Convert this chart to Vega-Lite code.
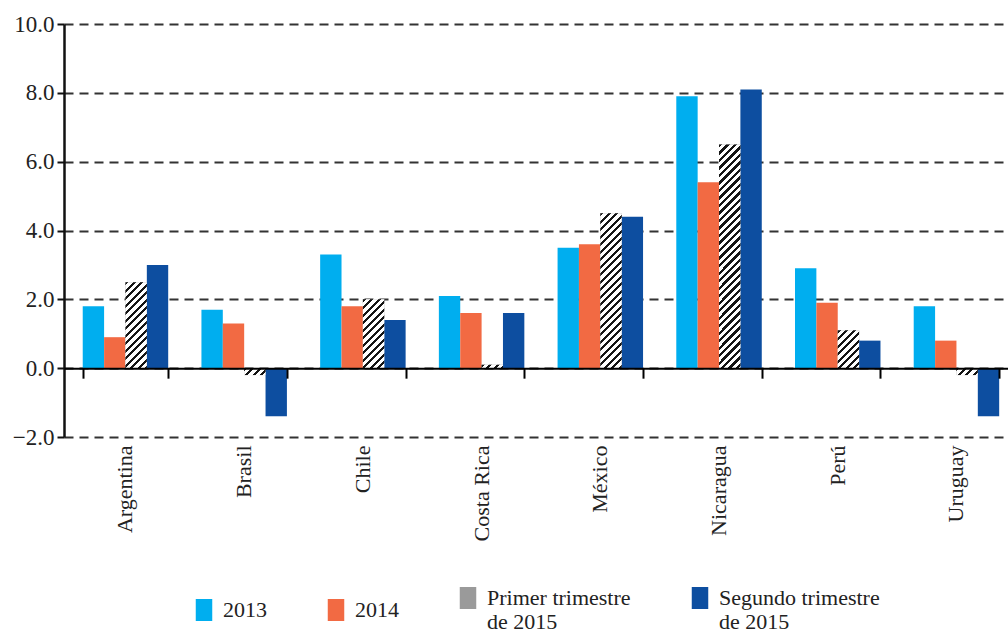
{
  "$schema": "https://vega.github.io/schema/vega-lite/v6.json",
  "autosize": {"type": "none"},
  "width": 944,
  "height": 413,
  "padding": {"left": 64, "top": 24, "right": 0, "bottom": 197},
  "background": "white",
  "config": {
    "view": {"stroke": null},
    "font": "Liberation Serif",
    "axis": {"labelFont": "Liberation Serif", "labelColor": "#222", "titleFont": "Liberation Serif"},
    "legend": {"labelFont": "Liberation Serif, Times New Roman, serif"}
  },
  "data": {
    "values": [
      {"country": "Argentina", "series": "2013", "value": 1.8},
      {"country": "Argentina", "series": "2014", "value": 0.9},
      {"country": "Argentina", "series": "Primer trimestre de 2015", "value": 2.5},
      {"country": "Argentina", "series": "Segundo trimestre de 2015", "value": 3.0},
      {"country": "Brasil", "series": "2013", "value": 1.7},
      {"country": "Brasil", "series": "2014", "value": 1.3},
      {"country": "Brasil", "series": "Primer trimestre de 2015", "value": -0.2},
      {"country": "Brasil", "series": "Segundo trimestre de 2015", "value": -1.4},
      {"country": "Chile", "series": "2013", "value": 3.3},
      {"country": "Chile", "series": "2014", "value": 1.8},
      {"country": "Chile", "series": "Primer trimestre de 2015", "value": 2.0},
      {"country": "Chile", "series": "Segundo trimestre de 2015", "value": 1.4},
      {"country": "Costa Rica", "series": "2013", "value": 2.1},
      {"country": "Costa Rica", "series": "2014", "value": 1.6},
      {"country": "Costa Rica", "series": "Primer trimestre de 2015", "value": 0.1},
      {"country": "Costa Rica", "series": "Segundo trimestre de 2015", "value": 1.6},
      {"country": "México", "series": "2013", "value": 3.5},
      {"country": "México", "series": "2014", "value": 3.6},
      {"country": "México", "series": "Primer trimestre de 2015", "value": 4.5},
      {"country": "México", "series": "Segundo trimestre de 2015", "value": 4.4},
      {"country": "Nicaragua", "series": "2013", "value": 7.9},
      {"country": "Nicaragua", "series": "2014", "value": 5.4},
      {"country": "Nicaragua", "series": "Primer trimestre de 2015", "value": 6.5},
      {"country": "Nicaragua", "series": "Segundo trimestre de 2015", "value": 8.1},
      {"country": "Perú", "series": "2013", "value": 2.9},
      {"country": "Perú", "series": "2014", "value": 1.9},
      {"country": "Perú", "series": "Primer trimestre de 2015", "value": 1.1},
      {"country": "Perú", "series": "Segundo trimestre de 2015", "value": 0.8},
      {"country": "Uruguay", "series": "2013", "value": 1.8},
      {"country": "Uruguay", "series": "2014", "value": 0.8},
      {"country": "Uruguay", "series": "Primer trimestre de 2015", "value": -0.2},
      {"country": "Uruguay", "series": "Segundo trimestre de 2015", "value": -1.4}
    ]
  },
  "layer": [
    {
      "mark": {"type": "bar", "strokeWidth": 0},
      "encoding": {
        "x": {
          "field": "country", "type": "nominal", "sort": null,
          "scale": {"paddingInner": 0.28, "paddingOuter": 0.116, "align": 0.68},
          "axis": {"orient": "bottom", "domain": false, "ticks": false, "labelAngle": -90, "labelPadding": 8, "labelFont": "Liberation Serif", "labelFontSize": 22, "labelColor": "#222", "title": null, "grid": false}
        },
        "xOffset": {
          "field": "series", "type": "nominal",
          "scale": {"domain": ["2013", "2014", "Primer trimestre de 2015", "Segundo trimestre de 2015"], "paddingInner": 0, "paddingOuter": 0}
        },
        "y": {
          "field": "value", "type": "quantitative",
          "scale": {"domain": [-2, 10], "nice": false, "zero": false},
          "axis": {
            "values": [-2, 0, 2, 4, 6, 8, 10], "format": ".1f", "title": null,
            "labelFont": "Liberation Serif", "labelFontSize": 23, "labelColor": "#222", "labelPadding": 3,
            "tickSize": 7, "tickWidth": 2, "tickColor": "#111",
            "domainColor": "#111", "domainWidth": 2.5,
            "grid": true, "gridDash": [9, 6], "gridColor": "#333", "gridWidth": 1.8
          }
        },
        "color": {
          "field": "series", "type": "nominal",
          "scale": {"domain": ["2013", "2014", "Primer trimestre de 2015", "Segundo trimestre de 2015"], "range": ["#00AEEF", "#F26A43", "#9a9a9a", "#0D4EA0"]},
          "legend": {
            "orient": "none", "legendX": 129, "legendY": 563, "direction": "horizontal", "title": null,
            "symbolType": "M-0.75,-1H0.75V1H-0.75Z", "symbolSize": 484, "symbolStrokeWidth": 0,
            "labelFont": "Liberation Serif, Times New Roman, serif", "labelFontSize": 22, "labelColor": "#222", "labelOffset": 8,
            "columnPadding": 58, "labelLimit": 400,
            "labelExpr": "datum.label == 'Primer trimestre de 2015' ? ['Primer trimestre', 'de 2015'] : datum.label == 'Segundo trimestre de 2015' ? ['Segundo  trimestre', 'de 2015'] : datum.label"
          }
        }
      }
    },
    {
      "transform": [{"filter": "datum.series === 'Primer trimestre de 2015'"}],
      "mark": {"type": "bar", "strokeWidth": 0},
      "encoding": {
        "x": {
          "field": "country", "type": "nominal", "sort": null,
          "scale": {"paddingInner": 0.28, "paddingOuter": 0.116, "align": 0.68},
          "axis": {"orient": "bottom", "offset": -68.83, "domain": true, "domainColor": "#000", "domainWidth": 2, "ticks": true, "tickSize": 10, "tickWidth": 2, "tickColor": "#000", "tickBand": "extent", "labels": false, "title": null, "grid": false, "zindex": 1}
        },
        "xOffset": {
          "field": "series", "type": "nominal",
          "scale": {"domain": ["2013", "2014", "Primer trimestre de 2015", "Segundo trimestre de 2015"], "paddingInner": 0, "paddingOuter": 0}
        },
        "y": {
          "field": "value", "type": "quantitative",
          "scale": {"domain": [-2, 10], "nice": false, "zero": false},
          "axis": {
            "values": [-2, 0, 2, 4, 6, 8, 10], "format": ".1f", "title": null,
            "labelFont": "Liberation Serif", "labelFontSize": 23, "labelColor": "#222", "labelPadding": 3,
            "tickSize": 7, "tickWidth": 2, "tickColor": "#111",
            "domainColor": "#111", "domainWidth": 2.5,
            "grid": true, "gridDash": [9, 6], "gridColor": "#333", "gridWidth": 1.8
          }
        },
        "fill": {
          "condition": [
            {"test": "datum.country === 'Argentina'", "value": {"gradient": "linear", "x1": 0, "y1": 0, "x2": 0.3065, "y2": 1.2319, "stops": [
              {"offset": 0, "color": "#151515"}, {"offset": 0.028, "color": "#151515"}, {"offset": 0.028, "color": "#fff"}, {"offset": 0.0667, "color": "#fff"},
              {"offset": 0.0667, "color": "#151515"}, {"offset": 0.0947, "color": "#151515"}, {"offset": 0.0947, "color": "#fff"}, {"offset": 0.1333, "color": "#fff"},
              {"offset": 0.1333, "color": "#151515"}, {"offset": 0.1613, "color": "#151515"}, {"offset": 0.1613, "color": "#fff"}, {"offset": 0.2, "color": "#fff"},
              {"offset": 0.2, "color": "#151515"}, {"offset": 0.228, "color": "#151515"}, {"offset": 0.228, "color": "#fff"}, {"offset": 0.2667, "color": "#fff"},
              {"offset": 0.2667, "color": "#151515"}, {"offset": 0.2947, "color": "#151515"}, {"offset": 0.2947, "color": "#fff"}, {"offset": 0.3333, "color": "#fff"},
              {"offset": 0.3333, "color": "#151515"}, {"offset": 0.3613, "color": "#151515"}, {"offset": 0.3613, "color": "#fff"}, {"offset": 0.4, "color": "#fff"},
              {"offset": 0.4, "color": "#151515"}, {"offset": 0.428, "color": "#151515"}, {"offset": 0.428, "color": "#fff"}, {"offset": 0.4667, "color": "#fff"},
              {"offset": 0.4667, "color": "#151515"}, {"offset": 0.4947, "color": "#151515"}, {"offset": 0.4947, "color": "#fff"}, {"offset": 0.5333, "color": "#fff"},
              {"offset": 0.5333, "color": "#151515"}, {"offset": 0.5613, "color": "#151515"}, {"offset": 0.5613, "color": "#fff"}, {"offset": 0.6, "color": "#fff"},
              {"offset": 0.6, "color": "#151515"}, {"offset": 0.628, "color": "#151515"}, {"offset": 0.628, "color": "#fff"}, {"offset": 0.6667, "color": "#fff"},
              {"offset": 0.6667, "color": "#151515"}, {"offset": 0.6947, "color": "#151515"}, {"offset": 0.6947, "color": "#fff"}, {"offset": 0.7333, "color": "#fff"},
              {"offset": 0.7333, "color": "#151515"}, {"offset": 0.7613, "color": "#151515"}, {"offset": 0.7613, "color": "#fff"}, {"offset": 0.8, "color": "#fff"},
              {"offset": 0.8, "color": "#151515"}, {"offset": 0.828, "color": "#151515"}, {"offset": 0.828, "color": "#fff"}, {"offset": 0.8667, "color": "#fff"},
              {"offset": 0.8667, "color": "#151515"}, {"offset": 0.8947, "color": "#151515"}, {"offset": 0.8947, "color": "#fff"}, {"offset": 0.9333, "color": "#fff"},
              {"offset": 0.9333, "color": "#151515"}, {"offset": 0.9613, "color": "#151515"}, {"offset": 0.9613, "color": "#fff"}, {"offset": 1, "color": "#fff"}
            ]}},
            {"test": "datum.country === 'Brasil' || datum.country === 'Uruguay'", "value": {"gradient": "linear", "x1": 0, "y1": 0, "x2": 1.2699, "y2": 0.4094, "stops": [
              {"offset": 0, "color": "#151515"}, {"offset": 0.105, "color": "#151515"}, {"offset": 0.105, "color": "#fff"}, {"offset": 0.25, "color": "#fff"},
              {"offset": 0.25, "color": "#151515"}, {"offset": 0.355, "color": "#151515"}, {"offset": 0.355, "color": "#fff"}, {"offset": 0.5, "color": "#fff"},
              {"offset": 0.5, "color": "#151515"}, {"offset": 0.605, "color": "#151515"}, {"offset": 0.605, "color": "#fff"}, {"offset": 0.75, "color": "#fff"},
              {"offset": 0.75, "color": "#151515"}, {"offset": 0.855, "color": "#151515"}, {"offset": 0.855, "color": "#fff"}, {"offset": 1, "color": "#fff"}
            ]}},
            {"test": "datum.country === 'Costa Rica'", "value": {"gradient": "linear", "x1": 0, "y1": 0, "x2": 1.3674, "y2": 0.2173, "stops": [
              {"offset": 0, "color": "#151515"}, {"offset": 0.105, "color": "#151515"}, {"offset": 0.105, "color": "#fff"}, {"offset": 0.25, "color": "#fff"},
              {"offset": 0.25, "color": "#151515"}, {"offset": 0.355, "color": "#151515"}, {"offset": 0.355, "color": "#fff"}, {"offset": 0.5, "color": "#fff"},
              {"offset": 0.5, "color": "#151515"}, {"offset": 0.605, "color": "#151515"}, {"offset": 0.605, "color": "#fff"}, {"offset": 0.75, "color": "#fff"},
              {"offset": 0.75, "color": "#151515"}, {"offset": 0.855, "color": "#151515"}, {"offset": 0.855, "color": "#fff"}, {"offset": 1, "color": "#fff"}
            ]}},
            {"test": "datum.country === 'Chile'", "value": {"gradient": "linear", "x1": 0, "y1": 0, "x2": 0.4019, "y2": 1.2921, "stops": [
              {"offset": 0, "color": "#151515"}, {"offset": 0.0323, "color": "#151515"}, {"offset": 0.0323, "color": "#fff"}, {"offset": 0.0769, "color": "#fff"},
              {"offset": 0.0769, "color": "#151515"}, {"offset": 0.1092, "color": "#151515"}, {"offset": 0.1092, "color": "#fff"}, {"offset": 0.1538, "color": "#fff"},
              {"offset": 0.1538, "color": "#151515"}, {"offset": 0.1862, "color": "#151515"}, {"offset": 0.1862, "color": "#fff"}, {"offset": 0.2308, "color": "#fff"},
              {"offset": 0.2308, "color": "#151515"}, {"offset": 0.2631, "color": "#151515"}, {"offset": 0.2631, "color": "#fff"}, {"offset": 0.3077, "color": "#fff"},
              {"offset": 0.3077, "color": "#151515"}, {"offset": 0.34, "color": "#151515"}, {"offset": 0.34, "color": "#fff"}, {"offset": 0.3846, "color": "#fff"},
              {"offset": 0.3846, "color": "#151515"}, {"offset": 0.4169, "color": "#151515"}, {"offset": 0.4169, "color": "#fff"}, {"offset": 0.4615, "color": "#fff"},
              {"offset": 0.4615, "color": "#151515"}, {"offset": 0.4938, "color": "#151515"}, {"offset": 0.4938, "color": "#fff"}, {"offset": 0.5385, "color": "#fff"},
              {"offset": 0.5385, "color": "#151515"}, {"offset": 0.5708, "color": "#151515"}, {"offset": 0.5708, "color": "#fff"}, {"offset": 0.6154, "color": "#fff"},
              {"offset": 0.6154, "color": "#151515"}, {"offset": 0.6477, "color": "#151515"}, {"offset": 0.6477, "color": "#fff"}, {"offset": 0.6923, "color": "#fff"},
              {"offset": 0.6923, "color": "#151515"}, {"offset": 0.7246, "color": "#151515"}, {"offset": 0.7246, "color": "#fff"}, {"offset": 0.7692, "color": "#fff"},
              {"offset": 0.7692, "color": "#151515"}, {"offset": 0.8015, "color": "#151515"}, {"offset": 0.8015, "color": "#fff"}, {"offset": 0.8462, "color": "#fff"},
              {"offset": 0.8462, "color": "#151515"}, {"offset": 0.8785, "color": "#151515"}, {"offset": 0.8785, "color": "#fff"}, {"offset": 0.9231, "color": "#fff"},
              {"offset": 0.9231, "color": "#151515"}, {"offset": 0.9554, "color": "#151515"}, {"offset": 0.9554, "color": "#fff"}, {"offset": 1, "color": "#fff"}
            ]}},
            {"test": "datum.country === 'México'", "value": {"gradient": "linear", "x1": 0, "y1": 0, "x2": 0.1575, "y2": 1.1403, "stops": [
              {"offset": 0, "color": "#151515"}, {"offset": 0.0175, "color": "#151515"}, {"offset": 0.0175, "color": "#fff"}, {"offset": 0.0417, "color": "#fff"},
              {"offset": 0.0417, "color": "#151515"}, {"offset": 0.0592, "color": "#151515"}, {"offset": 0.0592, "color": "#fff"}, {"offset": 0.0833, "color": "#fff"},
              {"offset": 0.0833, "color": "#151515"}, {"offset": 0.1008, "color": "#151515"}, {"offset": 0.1008, "color": "#fff"}, {"offset": 0.125, "color": "#fff"},
              {"offset": 0.125, "color": "#151515"}, {"offset": 0.1425, "color": "#151515"}, {"offset": 0.1425, "color": "#fff"}, {"offset": 0.1667, "color": "#fff"},
              {"offset": 0.1667, "color": "#151515"}, {"offset": 0.1842, "color": "#151515"}, {"offset": 0.1842, "color": "#fff"}, {"offset": 0.2083, "color": "#fff"},
              {"offset": 0.2083, "color": "#151515"}, {"offset": 0.2258, "color": "#151515"}, {"offset": 0.2258, "color": "#fff"}, {"offset": 0.25, "color": "#fff"},
              {"offset": 0.25, "color": "#151515"}, {"offset": 0.2675, "color": "#151515"}, {"offset": 0.2675, "color": "#fff"}, {"offset": 0.2917, "color": "#fff"},
              {"offset": 0.2917, "color": "#151515"}, {"offset": 0.3092, "color": "#151515"}, {"offset": 0.3092, "color": "#fff"}, {"offset": 0.3333, "color": "#fff"},
              {"offset": 0.3333, "color": "#151515"}, {"offset": 0.3508, "color": "#151515"}, {"offset": 0.3508, "color": "#fff"}, {"offset": 0.375, "color": "#fff"},
              {"offset": 0.375, "color": "#151515"}, {"offset": 0.3925, "color": "#151515"}, {"offset": 0.3925, "color": "#fff"}, {"offset": 0.4167, "color": "#fff"},
              {"offset": 0.4167, "color": "#151515"}, {"offset": 0.4342, "color": "#151515"}, {"offset": 0.4342, "color": "#fff"}, {"offset": 0.4583, "color": "#fff"},
              {"offset": 0.4583, "color": "#151515"}, {"offset": 0.4758, "color": "#151515"}, {"offset": 0.4758, "color": "#fff"}, {"offset": 0.5, "color": "#fff"},
              {"offset": 0.5, "color": "#151515"}, {"offset": 0.5175, "color": "#151515"}, {"offset": 0.5175, "color": "#fff"}, {"offset": 0.5417, "color": "#fff"},
              {"offset": 0.5417, "color": "#151515"}, {"offset": 0.5592, "color": "#151515"}, {"offset": 0.5592, "color": "#fff"}, {"offset": 0.5833, "color": "#fff"},
              {"offset": 0.5833, "color": "#151515"}, {"offset": 0.6008, "color": "#151515"}, {"offset": 0.6008, "color": "#fff"}, {"offset": 0.625, "color": "#fff"},
              {"offset": 0.625, "color": "#151515"}, {"offset": 0.6425, "color": "#151515"}, {"offset": 0.6425, "color": "#fff"}, {"offset": 0.6667, "color": "#fff"},
              {"offset": 0.6667, "color": "#151515"}, {"offset": 0.6842, "color": "#151515"}, {"offset": 0.6842, "color": "#fff"}, {"offset": 0.7083, "color": "#fff"},
              {"offset": 0.7083, "color": "#151515"}, {"offset": 0.7258, "color": "#151515"}, {"offset": 0.7258, "color": "#fff"}, {"offset": 0.75, "color": "#fff"},
              {"offset": 0.75, "color": "#151515"}, {"offset": 0.7675, "color": "#151515"}, {"offset": 0.7675, "color": "#fff"}, {"offset": 0.7917, "color": "#fff"},
              {"offset": 0.7917, "color": "#151515"}, {"offset": 0.8092, "color": "#151515"}, {"offset": 0.8092, "color": "#fff"}, {"offset": 0.8333, "color": "#fff"},
              {"offset": 0.8333, "color": "#151515"}, {"offset": 0.8508, "color": "#151515"}, {"offset": 0.8508, "color": "#fff"}, {"offset": 0.875, "color": "#fff"},
              {"offset": 0.875, "color": "#151515"}, {"offset": 0.8925, "color": "#151515"}, {"offset": 0.8925, "color": "#fff"}, {"offset": 0.9167, "color": "#fff"},
              {"offset": 0.9167, "color": "#151515"}, {"offset": 0.9342, "color": "#151515"}, {"offset": 0.9342, "color": "#fff"}, {"offset": 0.9583, "color": "#fff"},
              {"offset": 0.9583, "color": "#151515"}, {"offset": 0.9758, "color": "#151515"}, {"offset": 0.9758, "color": "#fff"}, {"offset": 1, "color": "#fff"}
            ]}},
            {"test": "datum.country === 'Nicaragua'", "value": {"gradient": "linear", "x1": 0, "y1": 0, "x2": 0.1049, "y2": 1.0964, "stops": [
              {"offset": 0, "color": "#151515"}, {"offset": 0.0127, "color": "#151515"}, {"offset": 0.0127, "color": "#fff"}, {"offset": 0.0303, "color": "#fff"},
              {"offset": 0.0303, "color": "#151515"}, {"offset": 0.043, "color": "#151515"}, {"offset": 0.043, "color": "#fff"}, {"offset": 0.0606, "color": "#fff"},
              {"offset": 0.0606, "color": "#151515"}, {"offset": 0.0733, "color": "#151515"}, {"offset": 0.0733, "color": "#fff"}, {"offset": 0.0909, "color": "#fff"},
              {"offset": 0.0909, "color": "#151515"}, {"offset": 0.1036, "color": "#151515"}, {"offset": 0.1036, "color": "#fff"}, {"offset": 0.1212, "color": "#fff"},
              {"offset": 0.1212, "color": "#151515"}, {"offset": 0.1339, "color": "#151515"}, {"offset": 0.1339, "color": "#fff"}, {"offset": 0.1515, "color": "#fff"},
              {"offset": 0.1515, "color": "#151515"}, {"offset": 0.1642, "color": "#151515"}, {"offset": 0.1642, "color": "#fff"}, {"offset": 0.1818, "color": "#fff"},
              {"offset": 0.1818, "color": "#151515"}, {"offset": 0.1945, "color": "#151515"}, {"offset": 0.1945, "color": "#fff"}, {"offset": 0.2121, "color": "#fff"},
              {"offset": 0.2121, "color": "#151515"}, {"offset": 0.2248, "color": "#151515"}, {"offset": 0.2248, "color": "#fff"}, {"offset": 0.2424, "color": "#fff"},
              {"offset": 0.2424, "color": "#151515"}, {"offset": 0.2551, "color": "#151515"}, {"offset": 0.2551, "color": "#fff"}, {"offset": 0.2727, "color": "#fff"},
              {"offset": 0.2727, "color": "#151515"}, {"offset": 0.2854, "color": "#151515"}, {"offset": 0.2854, "color": "#fff"}, {"offset": 0.303, "color": "#fff"},
              {"offset": 0.303, "color": "#151515"}, {"offset": 0.3157, "color": "#151515"}, {"offset": 0.3157, "color": "#fff"}, {"offset": 0.3333, "color": "#fff"},
              {"offset": 0.3333, "color": "#151515"}, {"offset": 0.3461, "color": "#151515"}, {"offset": 0.3461, "color": "#fff"}, {"offset": 0.3636, "color": "#fff"},
              {"offset": 0.3636, "color": "#151515"}, {"offset": 0.3764, "color": "#151515"}, {"offset": 0.3764, "color": "#fff"}, {"offset": 0.3939, "color": "#fff"},
              {"offset": 0.3939, "color": "#151515"}, {"offset": 0.4067, "color": "#151515"}, {"offset": 0.4067, "color": "#fff"}, {"offset": 0.4242, "color": "#fff"},
              {"offset": 0.4242, "color": "#151515"}, {"offset": 0.437, "color": "#151515"}, {"offset": 0.437, "color": "#fff"}, {"offset": 0.4545, "color": "#fff"},
              {"offset": 0.4545, "color": "#151515"}, {"offset": 0.4673, "color": "#151515"}, {"offset": 0.4673, "color": "#fff"}, {"offset": 0.4848, "color": "#fff"},
              {"offset": 0.4848, "color": "#151515"}, {"offset": 0.4976, "color": "#151515"}, {"offset": 0.4976, "color": "#fff"}, {"offset": 0.5152, "color": "#fff"},
              {"offset": 0.5152, "color": "#151515"}, {"offset": 0.5279, "color": "#151515"}, {"offset": 0.5279, "color": "#fff"}, {"offset": 0.5455, "color": "#fff"},
              {"offset": 0.5455, "color": "#151515"}, {"offset": 0.5582, "color": "#151515"}, {"offset": 0.5582, "color": "#fff"}, {"offset": 0.5758, "color": "#fff"},
              {"offset": 0.5758, "color": "#151515"}, {"offset": 0.5885, "color": "#151515"}, {"offset": 0.5885, "color": "#fff"}, {"offset": 0.6061, "color": "#fff"},
              {"offset": 0.6061, "color": "#151515"}, {"offset": 0.6188, "color": "#151515"}, {"offset": 0.6188, "color": "#fff"}, {"offset": 0.6364, "color": "#fff"},
              {"offset": 0.6364, "color": "#151515"}, {"offset": 0.6491, "color": "#151515"}, {"offset": 0.6491, "color": "#fff"}, {"offset": 0.6667, "color": "#fff"},
              {"offset": 0.6667, "color": "#151515"}, {"offset": 0.6794, "color": "#151515"}, {"offset": 0.6794, "color": "#fff"}, {"offset": 0.697, "color": "#fff"},
              {"offset": 0.697, "color": "#151515"}, {"offset": 0.7097, "color": "#151515"}, {"offset": 0.7097, "color": "#fff"}, {"offset": 0.7273, "color": "#fff"},
              {"offset": 0.7273, "color": "#151515"}, {"offset": 0.74, "color": "#151515"}, {"offset": 0.74, "color": "#fff"}, {"offset": 0.7576, "color": "#fff"},
              {"offset": 0.7576, "color": "#151515"}, {"offset": 0.7703, "color": "#151515"}, {"offset": 0.7703, "color": "#fff"}, {"offset": 0.7879, "color": "#fff"},
              {"offset": 0.7879, "color": "#151515"}, {"offset": 0.8006, "color": "#151515"}, {"offset": 0.8006, "color": "#fff"}, {"offset": 0.8182, "color": "#fff"},
              {"offset": 0.8182, "color": "#151515"}, {"offset": 0.8309, "color": "#151515"}, {"offset": 0.8309, "color": "#fff"}, {"offset": 0.8485, "color": "#fff"},
              {"offset": 0.8485, "color": "#151515"}, {"offset": 0.8612, "color": "#151515"}, {"offset": 0.8612, "color": "#fff"}, {"offset": 0.8788, "color": "#fff"},
              {"offset": 0.8788, "color": "#151515"}, {"offset": 0.8915, "color": "#151515"}, {"offset": 0.8915, "color": "#fff"}, {"offset": 0.9091, "color": "#fff"},
              {"offset": 0.9091, "color": "#151515"}, {"offset": 0.9218, "color": "#151515"}, {"offset": 0.9218, "color": "#fff"}, {"offset": 0.9394, "color": "#fff"},
              {"offset": 0.9394, "color": "#151515"}, {"offset": 0.9521, "color": "#151515"}, {"offset": 0.9521, "color": "#fff"}, {"offset": 0.9697, "color": "#fff"},
              {"offset": 0.9697, "color": "#151515"}, {"offset": 0.9824, "color": "#151515"}, {"offset": 0.9824, "color": "#fff"}, {"offset": 1, "color": "#fff"}
            ]}},
            {"test": "datum.country === 'Perú'", "value": {"gradient": "linear", "x1": 0, "y1": 0, "x2": 0.6778, "y2": 1.2016, "stops": [
              {"offset": 0, "color": "#151515"}, {"offset": 0.0525, "color": "#151515"}, {"offset": 0.0525, "color": "#fff"}, {"offset": 0.125, "color": "#fff"},
              {"offset": 0.125, "color": "#151515"}, {"offset": 0.1775, "color": "#151515"}, {"offset": 0.1775, "color": "#fff"}, {"offset": 0.25, "color": "#fff"},
              {"offset": 0.25, "color": "#151515"}, {"offset": 0.3025, "color": "#151515"}, {"offset": 0.3025, "color": "#fff"}, {"offset": 0.375, "color": "#fff"},
              {"offset": 0.375, "color": "#151515"}, {"offset": 0.4275, "color": "#151515"}, {"offset": 0.4275, "color": "#fff"}, {"offset": 0.5, "color": "#fff"},
              {"offset": 0.5, "color": "#151515"}, {"offset": 0.5525, "color": "#151515"}, {"offset": 0.5525, "color": "#fff"}, {"offset": 0.625, "color": "#fff"},
              {"offset": 0.625, "color": "#151515"}, {"offset": 0.6775, "color": "#151515"}, {"offset": 0.6775, "color": "#fff"}, {"offset": 0.75, "color": "#fff"},
              {"offset": 0.75, "color": "#151515"}, {"offset": 0.8025, "color": "#151515"}, {"offset": 0.8025, "color": "#fff"}, {"offset": 0.875, "color": "#fff"},
              {"offset": 0.875, "color": "#151515"}, {"offset": 0.9275, "color": "#151515"}, {"offset": 0.9275, "color": "#fff"}, {"offset": 1, "color": "#fff"}
            ]}}
          ],
          "value": "#ffffff"
        }
      }
    }
  ],
  "resolve": {"axis": {"x": "independent"}}
}
